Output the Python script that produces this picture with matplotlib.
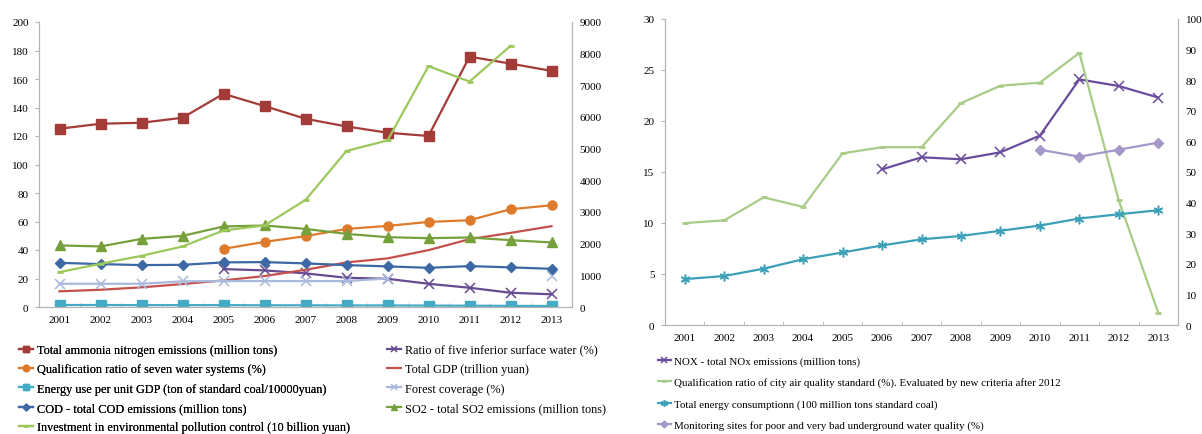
import numpy as np
import matplotlib.pyplot as plt

plt.rcParams["font.family"] = ["Liberation Serif", "DejaVu Serif"]

years = list(range(2001, 2014))
nan = np.nan

# left chart (left axis)
ammonia = [125.1, 128.6, 129.3, 132.8, 149.6, 141.0, 132.1, 126.7, 122.3, 120.0, 175.7, 170.8, 165.7]
inferior_water = [nan, nan, nan, nan, 26.6, 25.7, 23.6, 20.5, 19.8, 16.3, 13.5, 10.0, 8.9]
seven_water = [nan, nan, nan, nan, 40.8, 45.7, 49.7, 54.8, 56.9, 59.7, 60.9, 68.6, 71.4]
gdp = [11.0, 12.1, 13.8, 16.1, 18.7, 21.7, 26.1, 31.3, 34.1, 39.9, 47.6, 52.0, 56.7]
energy_per_gdp = [1.4, 1.4, 1.3, 1.3, 1.3, 1.2, 1.2, 1.1, 1.1, 1.0, 0.9, 0.8, 0.7]
forest = [16.3, 16.3, 16.3, 18.0, 18.2, 18.2, 18.2, 18.2, 20.0, nan, nan, nan, 21.6]
cod = [31.0, 30.1, 29.4, 29.6, 31.3, 31.5, 30.6, 29.4, 28.5, 27.5, 28.7, 27.8, 26.8]
so2 = [43.2, 42.5, 47.8, 49.9, 56.5, 57.2, 54.8, 51.3, 49.0, 48.3, 48.8, 46.9, 45.3]
# left chart (right axis)
investment = [1102, 1364, 1616, 1912, 2416, 2574, 3380, 4928, 5260, 7605, 7119, 8244, nan]

# right chart
nox = [nan, nan, nan, nan, nan, 15.26, 16.44, 16.25, 16.93, 18.57, 24.08, 23.43, 22.3]
air_quality = [33.3, 34.2, 41.7, 38.6, 56.1, 58.1, 58.1, 72.5, 78.2, 79.2, 88.9, 40.7, 4.0]
total_energy = [15.0, 16.0, 18.4, 21.5, 23.7, 26.0, 28.0, 29.1, 30.8, 32.5, 34.8, 36.2, 37.5]
groundwater = [nan, nan, nan, nan, nan, nan, nan, nan, nan, 57.3, 55.0, 57.3, 59.6]

W, H = 1202, 435
fig = plt.figure(figsize=(W / 100, H / 100), dpi=100)
axis_grey = "#B4B4B4"
fs = 8


def style_axes(ax, tw):
    ax.spines["top"].set_visible(False)
    tw.spines["top"].set_visible(False)
    for s in ["left", "bottom", "right"]:
        ax.spines[s].set_color(axis_grey)
        tw.spines[s].set_color(axis_grey)
    ax.set_xlim(2000.5, 2013.5)
    ax.set_xticks(years)
    ax.set_xticklabels([str(y) for y in years], fontsize=fs)
    ax.set_xticks(np.arange(2000.5, 2014, 1), minor=True)
    ax.tick_params(axis="x", which="major", length=0, pad=6)
    ax.tick_params(axis="x", which="minor", length=3, direction="in", color=axis_grey)
    ax.tick_params(axis="y", length=3, color=axis_grey, labelsize=fs, pad=4.5)
    tw.tick_params(axis="y", length=0, labelsize=fs, pad=5.5)


ax1 = fig.add_axes([39 / W, 1 - 308 / H, (572 - 39) / W, (308 - 23) / H])
tw1 = ax1.twinx()
lw = 1.6
h_amm, = ax1.plot(years, ammonia, color="#A33B38", lw=lw, marker="s", ms=6.5, label="Total ammonia nitrogen emissions (million tons)")
h_inf, = ax1.plot(years, inferior_water, color="#664A92", lw=lw, marker="x", ms=6.5, mew=1.1, label="Ratio of five inferior surface water (%)")
h_sev, = ax1.plot(years, seven_water, color="#DD7A2C", lw=lw, marker="o", ms=6.5, label="Qualification ratio of seven water systems (%)")
h_gdp, = ax1.plot(years, gdp, color="#C4504C", lw=lw, label="Total GDP (trillion yuan)")
h_epg, = ax1.plot(years, energy_per_gdp, color="#45AAC4", lw=lw, marker="s", ms=6.5, label="Energy use per unit GDP (ton of standard coal/10000yuan)")
h_for, = ax1.plot(years, forest, color="#A9B9DC", lw=lw, marker="x", ms=6.5, mew=1.1, label="Forest coverage (%)")
h_cod, = ax1.plot(years, cod, color="#3C69A3", lw=lw, marker="D", ms=5, label="COD - total COD emissions (million tons)")
h_so2, = ax1.plot(years, so2, color="#76A03B", lw=lw, marker="^", ms=6.5, label="SO2 - total SO2 emissions (million tons)")
h_inv, = tw1.plot(years, investment, color="#9CC85B", lw=lw, marker="_", ms=5, mew=2, label="Investment in environmental pollution control (10 billion yuan)")
ax1.set_ylim(0, 200)
ax1.set_yticks(range(0, 201, 20))
tw1.set_ylim(0, 9000)
tw1.set_yticks(range(0, 9001, 1000))
style_axes(ax1, tw1)

ax2 = fig.add_axes([665 / W, 1 - 326 / H, (1178 - 665) / W, (326 - 20) / H])
tw2 = ax2.twinx()
h_nox, = ax2.plot(years, nox, color="#6A4C9C", lw=lw, marker="x", ms=6.5, mew=1.1, label="NOX - total NOx emissions (million tons)")
h_air, = tw2.plot(years, air_quality, color="#A9CB88", lw=lw, marker="_", ms=5, mew=2, label="Qualification ratio of city air quality standard (%). Evaluated by new criteria after 2012")
h_ten, = tw2.plot(years, total_energy, color="#3BA0B8", lw=lw, marker=(6, 2, 0), ms=7, mew=1.1, label="Total energy consumptionn (100 million tons standard coal)")
h_gw, = tw2.plot(years, groundwater, color="#A597C8", lw=lw, marker="D", ms=5, label="Monitoring sites for poor and very bad underground water quality (%)")
ax2.set_ylim(0, 30)
ax2.set_yticks(range(0, 31, 5))
tw2.set_ylim(0, 100)
tw2.set_yticks(range(0, 101, 10))
style_axes(ax2, tw2)

leg_kw = dict(frameon=False, borderpad=0, borderaxespad=0, handlelength=1.15,
              handletextpad=0.35, markerscale=0.7, bbox_transform=fig.transFigure, loc="upper left")
col1 = [h_amm, h_sev, h_epg, h_cod, h_inv]
col2 = [h_inf, h_gdp, h_for, h_so2]
lg1 = ax1.legend(col1, [h.get_label() for h in col1], bbox_to_anchor=(19 / W, 1 - 345 / H),
                 labelspacing=0.6, fontsize=8.8, **leg_kw)
ax1.add_artist(lg1)
lg2 = fig.legend(col2, [h.get_label() for h in col2], bbox_to_anchor=(387 / W, 1 - 345 / H),
                 labelspacing=0.6, fontsize=8.8, **leg_kw)
col3 = [h_nox, h_air, h_ten, h_gw]
lg3 = fig.legend(col3, [h.get_label() for h in col3], bbox_to_anchor=(658 / W, 1 - 357 / H),
                 labelspacing=1.05, fontsize=7.9, **leg_kw)

fig.savefig("out.png", dpi=100)
